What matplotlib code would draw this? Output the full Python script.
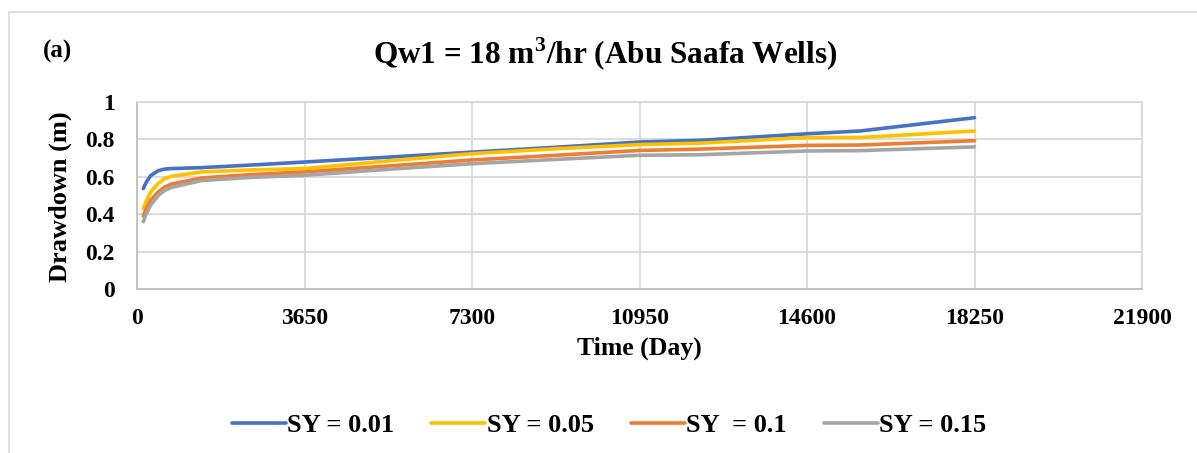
import matplotlib
matplotlib.use("Agg")
import matplotlib.pyplot as plt
from matplotlib.patches import Rectangle

plt.rcParams['font.family'] = ['Liberation Serif', 'DejaVu Serif']
plt.rcParams['font.weight'] = 'bold'
plt.rcParams['mathtext.fontset'] = 'custom'
plt.rcParams['mathtext.rm'] = 'Liberation Serif:bold'
plt.rcParams['mathtext.bf'] = 'Liberation Serif:bold'

days = [137, 200, 300, 465, 600, 757, 1410, 2500, 3650, 5475, 7300, 9125, 10950, 12268, 14600, 15755, 18250]
sy_001 = [0.537, 0.57, 0.607, 0.633, 0.641, 0.644, 0.649, 0.663, 0.679, 0.705, 0.732, 0.758, 0.786, 0.795, 0.83, 0.845, 0.916]
sy_005 = [0.43, 0.47, 0.52, 0.565, 0.59, 0.603, 0.626, 0.637, 0.644, 0.685, 0.724, 0.75, 0.772, 0.78, 0.81, 0.81, 0.845]
sy_010 = [0.39, 0.43, 0.475, 0.52, 0.545, 0.562, 0.594, 0.612, 0.626, 0.658, 0.69, 0.715, 0.741, 0.748, 0.768, 0.77, 0.793]
sy_015 = [0.36, 0.40, 0.45, 0.5, 0.527, 0.544, 0.58, 0.597, 0.608, 0.64, 0.67, 0.693, 0.715, 0.718, 0.738, 0.74, 0.76]

labels = ["SY = 0.01", "SY = 0.05", "SY  = 0.1", "SY = 0.15"]
colors = ["#4472C4", "#FFC000", "#ED7D31", "#A5A5A5"]
xticks = [0, 3650, 7300, 10950, 14600, 18250, 21900]
yticks = [0, 0.2, 0.4, 0.6, 0.8, 1.0]
yticklabels = ["0", "0.2", "0.4", "0.6", "0.8", "1"]

W, H = 1197, 453
fig = plt.figure(figsize=(W / 100, H / 100), dpi=100)
fig.patches.append(Rectangle((9 / W, -0.1), 1.2, 1 - 12 / H + 0.1, transform=fig.transFigure,
                             fill=False, edgecolor="#d9d9d9", linewidth=1.2))

ax = fig.add_axes([137 / W, 1 - 289 / H, (1142 - 137) / W, (289 - 102) / H])
for ys, lab, c in zip([sy_001, sy_005, sy_010, sy_015], labels, colors):
    ax.plot(days, ys, color=c, linewidth=2.6, label=lab, solid_capstyle='round', solid_joinstyle='round')

ax.set_xlim(0, 21900)
ax.set_ylim(0, 1)
ax.set_xticks(xticks)
ax.set_xticklabels([str(x) for x in xticks])
ax.set_yticks(yticks)
ax.set_yticklabels(yticklabels)
ax.grid(True, color="#d9d9d9", linewidth=1.3)
ax.set_axisbelow(True)
for s in ax.spines.values():
    s.set_color("#d9d9d9")
    s.set_linewidth(1.3)
ax.spines['left'].set_color("#bfbfbf")
ax.spines['bottom'].set_color("#bfbfbf")
ax.tick_params(axis='x', length=0, labelsize=17, pad=14)
ax.tick_params(axis='y', length=0, labelsize=17, pad=16)
for t in ax.get_xticklabels() + ax.get_yticklabels():
    t.set_fontweight('bold')

fig.text(639 / W, 1 - 348 / H, "Time (Day)", ha='center', va='center', fontsize=18.5, fontweight='bold')
fig.text(60 / W, 1 - 197 / H, "Drawdown (m)", ha='center', va='center', rotation=90, fontsize=19, fontweight='bold')
fig.text(605 / W, 1 - 54 / H, r"Qw1 = 18 m$^{3}$/hr (Abu Saafa Wells)", ha='center', va='center',
         fontsize=22.5, fontweight='bold')
fig.text(43 / W, 1 - 51 / H, "(a)", ha='left', va='center', fontsize=18, fontweight='bold')

fig.legend(loc='center', bbox_to_anchor=(609 / W, 1 - 425 / H), ncol=4, frameon=False,
           prop={'size': 19, 'weight': 'bold'}, handlelength=2.05, handletextpad=0.05, columnspacing=1.4)

fig.savefig("out.png", dpi=100)
